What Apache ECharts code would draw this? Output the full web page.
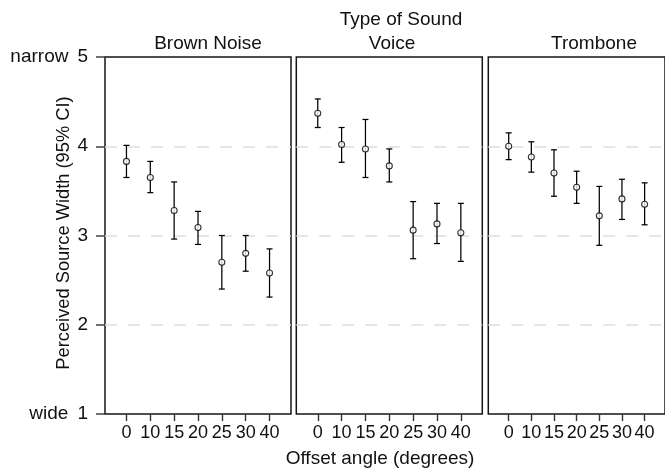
<!DOCTYPE html>
<html>
<head>
<meta charset="utf-8">
<script src="https://cdn.jsdelivr.net/npm/echarts@6/dist/echarts.min.js"></script>
<style>
  html, body { margin: 0; padding: 0; background: #fff; }
  #chart { width: 665px; height: 474px; }
</style>
</head>
<body>
<div id="chart"></div>
<script>
// Offset angles (degrees) shown on every panel
const categories = ['0', '10', '15', '20', '25', '30', '40'];
const panelNames = ['Brown Noise', 'Voice', 'Trombone'];
const yTicks = [1, 2, 3, 4, 5];
const yEndLabels = { 5: 'narrow', 1: 'wide' };

// Mean perceived source width and 95% CI per offset angle
const brownMean = [3.83, 3.65, 3.28, 3.09, 2.70, 2.80, 2.58];
const brownLow  = [3.65, 3.48, 2.96, 2.90, 2.40, 2.60, 2.31];
const brownHigh = [4.01, 3.83, 3.60, 3.27, 3.00, 3.00, 2.85];

const voiceMean = [4.37, 4.02, 3.97, 3.78, 3.06, 3.13, 3.03];
const voiceLow  = [4.21, 3.82, 3.65, 3.60, 2.74, 2.91, 2.71];
const voiceHigh = [4.53, 4.21, 4.30, 3.97, 3.38, 3.36, 3.36];

const tromMean = [4.00, 3.88, 3.70, 3.54, 3.22, 3.41, 3.35];
const tromLow  = [3.85, 3.71, 3.44, 3.36, 2.89, 3.18, 3.12];
const tromHigh = [4.15, 4.05, 3.96, 3.72, 3.55, 3.63, 3.59];

const panelData = [
  { mean: brownMean, low: brownLow, high: brownHigh },
  { mean: voiceMean, low: voiceLow, high: voiceHigh },
  { mean: tromMean,  low: tromLow,  high: tromHigh }
];

const FONT = '"Liberation Sans", Arial, sans-serif';
const TEXT = '#111';
const FS = 18;      // tick labels
const FS_T = 19;    // titles and strip labels

const gridLefts = [105, 296.3, 488.3];
const PANEL_W = 186;
const TOP = 57, BOTTOM_Y = 414;
const tickIdx = categories.map((c, i) => i);

const grids = [], xAxes = [], yAxes = [], series = [];

panelNames.forEach((name, p) => {
  grids.push({
    left: gridLefts[p], top: TOP, width: PANEL_W, height: BOTTOM_Y - TOP,
    show: true, borderColor: '#151515', borderWidth: 1.5, backgroundColor: 'transparent'
  });
  xAxes.push({
    gridIndex: p, type: 'value', min: -0.9, max: 6.9,
    axisLine: { show: false, onZero: false },
    splitLine: { show: false },
    axisTick: { show: true, inside: false, customValues: tickIdx, length: 7, lineStyle: { color: '#333', width: 1.4 } },
    axisLabel: {
      show: true, customValues: tickIdx, margin: 10,
      formatter: v => categories[Math.round(v)],
      color: TEXT, fontSize: FS, fontFamily: FONT
    }
  });
  const first = p === 0;
  yAxes.push({
    gridIndex: p, type: 'value', min: 1, max: 5, interval: 1,
    axisLine: { show: false, onZero: false },
    axisTick: { show: first, inside: false, length: 9, lineStyle: { color: '#444', width: 1.5 } },
    axisLabel: {
      show: first, margin: 17, color: TEXT, fontSize: FS_T, fontFamily: FONT,
      formatter: v => yEndLabels[v] ? '{w|' + yEndLabels[v] + '}' + v : String(v),
      rich: { w: { fontSize: FS_T, fontFamily: FONT, color: TEXT, padding: [0, 9, 0, 0] } }
    },
    splitLine: {
      show: true, showMinLine: false, showMaxLine: false,
      lineStyle: { color: '#dedede', width: 1.5, type: [12, 11] }
    }
  });

  const d = panelData[p];
  series.push({
    type: 'custom', xAxisIndex: p, yAxisIndex: p,
    data: categories.map((c, i) => [i, d.low[i], d.high[i]]),
    renderItem: (params, api) => {
      const x = api.value(0);
      const lo = api.coord([x, api.value(1)]);
      const hi = api.coord([x, api.value(2)]);
      const hw = 3;
      const st = { stroke: '#000', lineWidth: 1.25 };
      return {
        type: 'group',
        children: [
          { type: 'line', shape: { x1: lo[0], y1: lo[1], x2: hi[0], y2: hi[1] }, style: st },
          { type: 'line', shape: { x1: hi[0] - hw, y1: hi[1], x2: hi[0] + hw, y2: hi[1] }, style: st },
          { type: 'line', shape: { x1: lo[0] - hw, y1: lo[1], x2: lo[0] + hw, y2: lo[1] }, style: st }
        ]
      };
    },
    silent: true, z: 3
  });
  series.push({
    type: 'scatter', xAxisIndex: p, yAxisIndex: p,
    data: categories.map((c, i) => [i, d.mean[i]]),
    symbol: 'circle', symbolSize: 6,
    itemStyle: { color: '#fff', borderColor: '#000', borderWidth: 1.1 },
    silent: true, z: 4
  });
});

// Facet header and axis titles
const stripCenters = [208, 392, 594];
const graphics = [
  { type: 'text', x: 401, y: 10, style: { text: 'Type of Sound', font: FS_T + 'px ' + FONT, fill: TEXT, textAlign: 'center', textVerticalAlign: 'top' } },
  { type: 'text', x: 380, y: 449, style: { text: 'Offset angle (degrees)', font: FS_T + 'px ' + FONT, fill: TEXT, textAlign: 'center', textVerticalAlign: 'top' } },
  { type: 'text', x: 64, y: 233, rotation: Math.PI / 2, style: { text: 'Perceived Source Width (95% CI)', font: '18.3px ' + FONT, fill: TEXT, textAlign: 'center', textVerticalAlign: 'middle' } }
];
panelNames.forEach((name, p) => {
  graphics.push({ type: 'text', x: stripCenters[p], y: 34, style: { text: name, font: FS_T + 'px ' + FONT, fill: TEXT, textAlign: 'center', textVerticalAlign: 'top' } });
});

const chart = echarts.init(document.getElementById('chart'), null, { renderer: 'canvas' });
chart.setOption({
  animation: false,
  backgroundColor: '#fff',
  grid: grids,
  xAxis: xAxes,
  yAxis: yAxes,
  series: series,
  graphic: graphics
});
</script>
</body>
</html>
